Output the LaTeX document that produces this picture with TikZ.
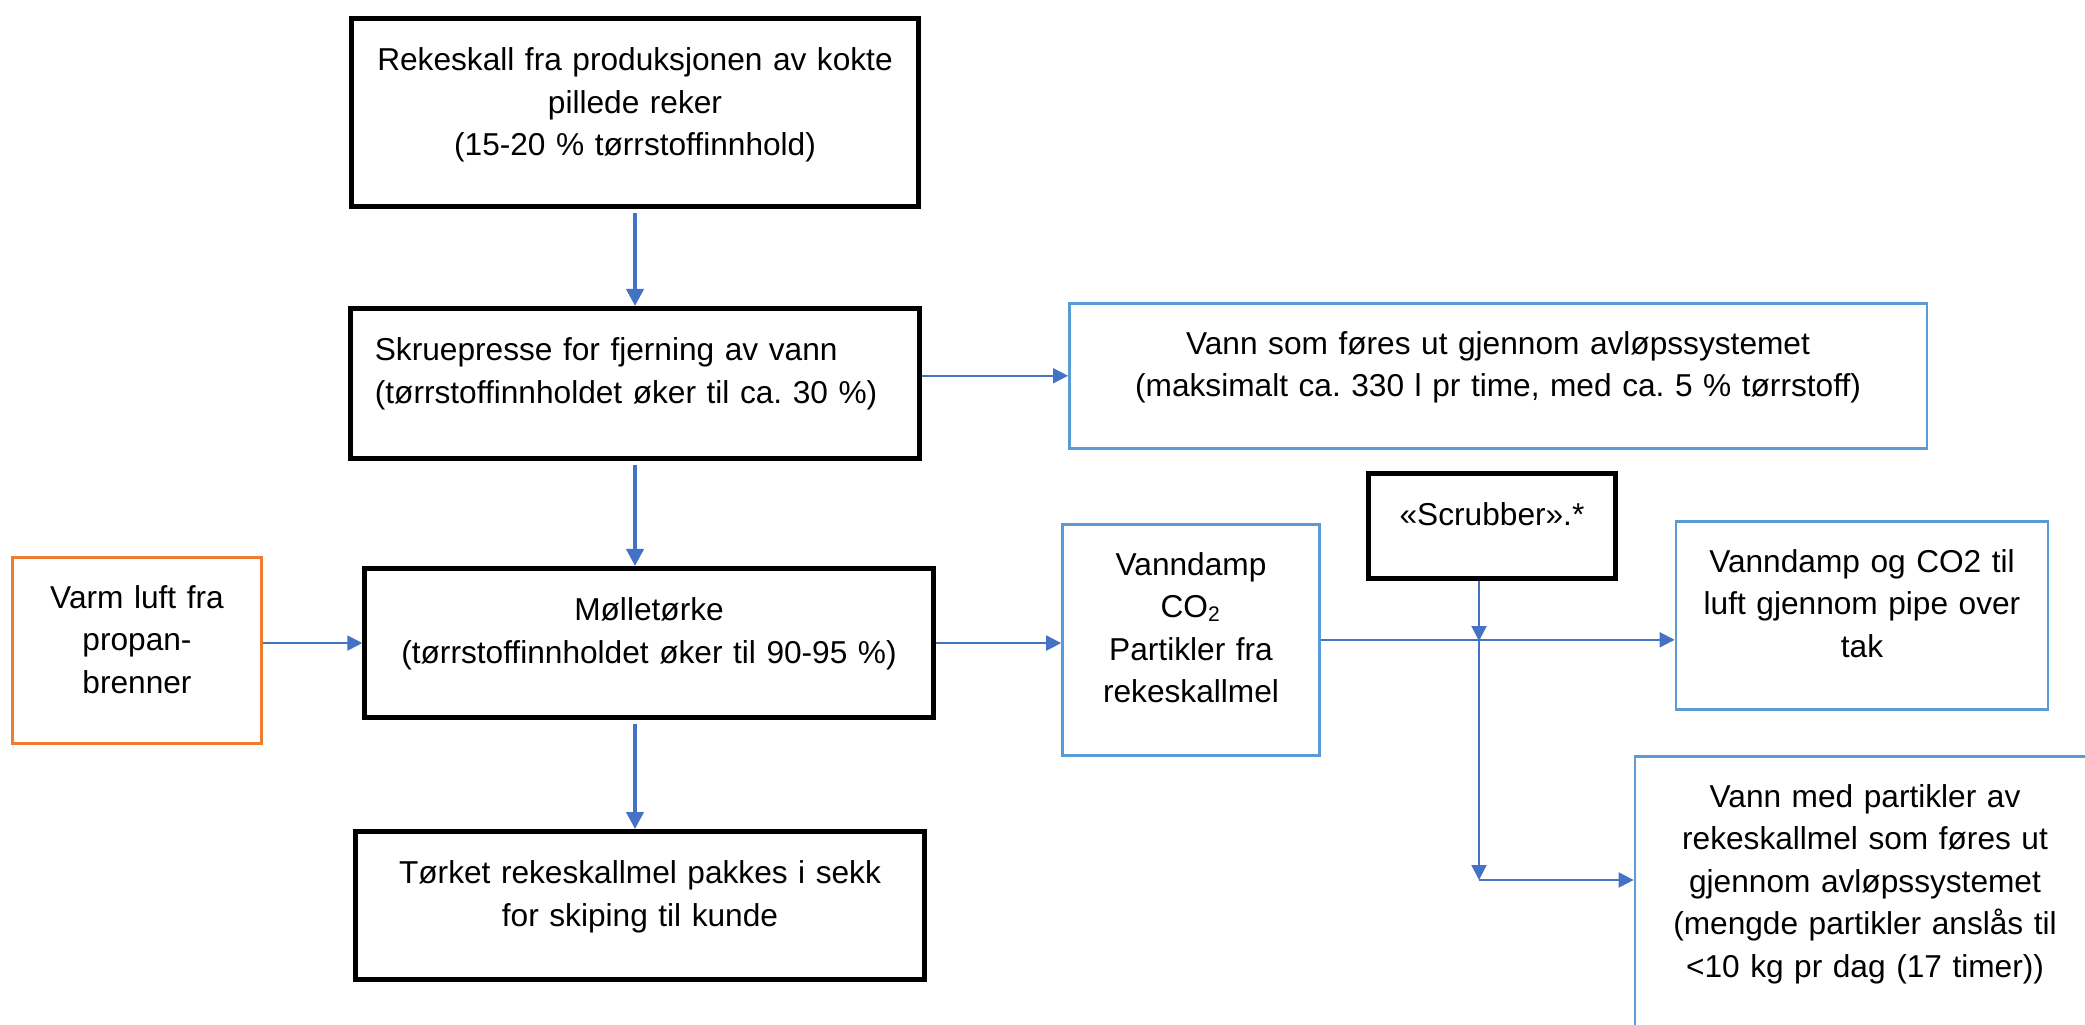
\documentclass[tikz,border=0pt]{standalone}
\usepackage{fontspec}
\setmainfont{Liberation Sans}
\usepackage{xcolor}
\usepackage{tikz}
\definecolor{flowblue}{RGB}{68, 114, 196}
\definecolor{boxblue}{RGB}{91, 155, 213}
\definecolor{burnorange}{RGB}{237, 125, 49}
\usetikzlibrary{arrows.meta}
\tikzset{
  procbox/.style={rectangle, draw=black, line width=0.05cm, align=center, anchor=north, inner sep=0pt, text height=0.52cm},
  outbox/.style={rectangle, draw=boxblue, line width=0.025cm, align=center, anchor=north, inner sep=0pt, text height=0.51cm},
  flow/.style={-{Triangle[length=0.17cm, width=0.17cm]}, line width=0.04cm, flowblue, shorten <=0.04cm},
  branch/.style={-{Triangle[length=0.15cm, width=0.15cm]}, line width=0.02cm, flowblue}
}

\begin{document}
\frenchspacing
\begin{tikzpicture}[x=0.01cm, y=-0.01cm, every node/.style={font=\fontsize{9pt}{12.1pt}\selectfont}]
    \useasboundingbox (0,0) rectangle (2085,1024);
    \clip (0,0) rectangle (2085,1024);

    \node[procbox, minimum width=5.66cm, text width=5.5cm, text depth=1.36cm] (shells) at (635,16) {Rekeskall fra produksjonen av kokte\\pillede reker\\(15-20 \% tørrstoffinnhold)};
    \node[procbox, minimum width=5.68cm, text depth=0.98cm, align=left, text width=5.2cm] (press) at (635,306) {Skruepresse for fjerning av vann\\(tørrstoffinnholdet øker til ca. 30 \%)};
    \node[procbox, minimum width=5.68cm, text width=5.5cm, text depth=0.97cm] (dryer) at (649,566) {Mølletørke\\(tørrstoffinnholdet øker til 90-95 \%)};
    \node[procbox, minimum width=5.68cm, text width=5.5cm, text depth=0.96cm] (meal) at (640,829) {Tørket rekeskallmel pakkes i sekk\\for skiping til kunde};
    \node[procbox, minimum width=2.46cm, text width=2.3cm, text depth=0.53cm] (scrub) at (1492,471) {«Scrubber».*};
    \node[outbox, draw=burnorange, minimum width=2.49cm, text width=2.4cm, text depth=1.35cm] (burner) at (137,556) {Varm luft fra\\propan-\\brenner};
    \node[outbox, minimum width=8.57cm, text width=8.4cm, text depth=0.94cm] (drain) at (1498,302) {Vann som føres ut gjennom avløpssystemet\\(maksimalt ca. 330 l pr time, med ca. 5 \% tørrstoff)};
    \node[outbox, minimum width=2.57cm, text width=2.5cm, text depth=1.80cm] (vapour) at (1191,523) {Vanndamp\\CO\textsubscript{2}\\Partikler fra\\rekeskallmel};
    \node[outbox, minimum width=3.72cm, text width=3.6cm, text depth=1.37cm] (stack) at (1862,520) {Vanndamp og CO2 til\\luft gjennom pipe over\\tak};
    \node[outbox, minimum width=4.60cm, text width=4.5cm, text depth=2.33cm] (sludge) at (1865,755) {Vann med partikler av\\rekeskallmel som føres ut\\gjennom avløpssystemet\\(mengde partikler anslås til\\<10 kg pr dag (17 timer))};

    \coordinate (split) at (1479,641);
    \coordinate (turn) at (1479,880);

    \draw[flow] (shells) -- (press);
    \draw[branch] (press.east |- drain) -- (drain);
    \draw[flow] (press) -- (press |- dryer.north);
    \draw[branch] (burner.east |- dryer) -- (dryer);
    \draw[branch] (dryer) -- (dryer -| vapour.west);
    \draw[flow] (press |- dryer.south) -- (press |- meal.north);
    \draw[branch] (vapour) -- (vapour -| stack.west);
    \draw[branch] (scrub.south -| split) -- (split);
    \draw[branch] (split) -- (turn);
    \draw[branch] (turn) -- (turn -| sludge.west);
\end{tikzpicture}
\end{document}
